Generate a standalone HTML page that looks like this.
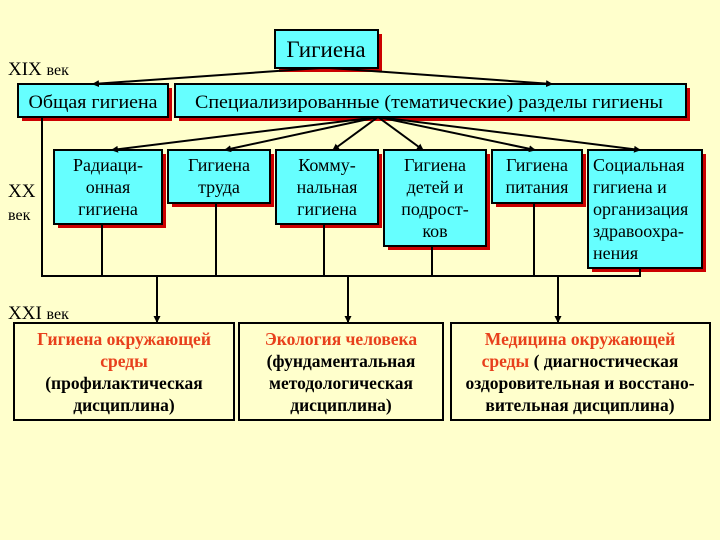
<!DOCTYPE html>
<html><head><meta charset="utf-8"><style>
body{margin:0;background:#FFFFCC}
svg{display:block}
text{font-family:"Liberation Serif",serif;fill:#000}
</style></head><body>
<svg width="720" height="540" viewBox="0 0 720 540" xmlns="http://www.w3.org/2000/svg">
<defs><marker id="a" markerWidth="7" markerHeight="7" refX="6" refY="3.5" orient="auto" markerUnits="userSpaceOnUse"><path d="M0,0 L7,3.5 L0,7z" fill="#000"/></marker></defs>
<rect width="720" height="540" fill="#FFFFCC"/>
<g fill="#CC0000">
<rect x="279" y="34" width="103" height="38"/>
<rect x="22" y="88" width="150" height="33"/>
<rect x="179" y="88" width="511" height="33"/>
<rect x="58" y="154" width="108" height="74"/>
<rect x="172" y="154" width="102" height="53"/>
<rect x="280" y="154" width="102" height="74"/>
<rect x="388" y="154" width="102" height="96"/>
<rect x="496" y="154" width="90" height="53"/>
<rect x="592" y="154" width="114" height="118"/>
</g>
<g fill="#66FFFF" stroke="#000" stroke-width="2">
<rect x="275" y="30" width="103" height="38"/>
<rect x="18" y="84" width="150" height="33"/>
<rect x="175" y="84" width="511" height="33"/>
<rect x="54" y="150" width="108" height="74"/>
<rect x="168" y="150" width="102" height="53"/>
<rect x="276" y="150" width="102" height="74"/>
<rect x="384" y="150" width="102" height="96"/>
<rect x="492" y="150" width="90" height="53"/>
<rect x="588" y="150" width="114" height="118"/>
</g>
<g stroke="#000" stroke-width="2" fill="none">
<line x1="320" y1="68" x2="93" y2="84" marker-end="url(#a)"/>
<line x1="330" y1="68" x2="552" y2="84" marker-end="url(#a)"/>
<line x1="378" y1="117" x2="112" y2="150" marker-end="url(#a)"/>
<line x1="378" y1="117" x2="225" y2="150" marker-end="url(#a)"/>
<line x1="378" y1="117" x2="333" y2="150" marker-end="url(#a)"/>
<line x1="378" y1="117" x2="423" y2="150" marker-end="url(#a)"/>
<line x1="378" y1="117" x2="535" y2="150" marker-end="url(#a)"/>
<line x1="378" y1="117" x2="640" y2="150" marker-end="url(#a)"/>
<polyline points="42,117 42,276 640,276 640,268"/>
<line x1="102" y1="224" x2="102" y2="276"/>
<line x1="216" y1="203" x2="216" y2="276"/>
<line x1="324" y1="224" x2="324" y2="276"/>
<line x1="432" y1="246" x2="432" y2="276"/>
<line x1="534" y1="203" x2="534" y2="276"/>
<line x1="157" y1="276" x2="157" y2="322" marker-end="url(#a)"/>
<line x1="348" y1="276" x2="348" y2="322" marker-end="url(#a)"/>
<line x1="558" y1="276" x2="558" y2="322" marker-end="url(#a)"/>
<rect x="14" y="323" width="220" height="97" fill="#FFFFCC"/>
<rect x="239" y="323" width="204" height="97" fill="#FFFFCC"/>
<rect x="451" y="323" width="259" height="97" fill="#FFFFCC"/>
</g>
<g>
<text x="8" y="75" font-size="19">XIX <tspan font-size="16">век</tspan></text>
<text x="8" y="197" font-size="19">XX</text>
<text x="8" y="220" font-size="16">век</text>
<text x="8" y="319" font-size="19">XXI <tspan font-size="16">век</tspan></text>
</g>
<g text-anchor="middle" font-size="18">
<text x="326" y="57" font-size="23">Гигиена</text>
<text x="93" y="108" font-size="19" textLength="129" lengthAdjust="spacingAndGlyphs">Общая гигиена</text>
<text x="429" y="108" font-size="19" textLength="468" lengthAdjust="spacingAndGlyphs">Специализированные (тематические) разделы гигиены</text>
<text x="108" y="171">Радиаци-</text><text x="108" y="193">онная</text><text x="108" y="215">гигиена</text>
<text x="219" y="171">Гигиена</text><text x="219" y="193">труда</text>
<text x="327" y="171">Комму-</text><text x="327" y="193">нальная</text><text x="327" y="215">гигиена</text>
<text x="435" y="171">Гигиена</text><text x="435" y="193">детей и</text><text x="435" y="215">подрост-</text><text x="435" y="237">ков</text>
<text x="537" y="171">Гигиена</text><text x="537" y="193">питания</text>
</g>
<g font-size="18">
<text x="593" y="171">Социальная</text><text x="593" y="193">гигиена и</text><text x="593" y="215">организация</text><text x="593" y="237">здравоохра-</text><text x="593" y="259">нения</text>
</g>
<g text-anchor="middle" font-size="17.5" font-weight="bold">
<text x="124" y="345" style="fill:#E8401C">Гигиена окружающей</text>
<text x="124" y="367" style="fill:#E8401C">среды</text>
<text x="124" y="389">(профилактическая</text>
<text x="124" y="411">дисциплина)</text>
<text x="341" y="345" style="fill:#E8401C">Экология человека</text>
<text x="341" y="367">(фундаментальная</text>
<text x="341" y="389">методологическая</text>
<text x="341" y="411">дисциплина)</text>
<text x="580" y="345" style="fill:#E8401C">Медицина окружающей</text>
<text x="580" y="367"><tspan style="fill:#E8401C">среды</tspan> ( диагностическая</text>
<text x="580" y="389">оздоровительная и восстано-</text>
<text x="580" y="411">вительная  дисциплина)</text>
</g>
</svg>
</body></html>
